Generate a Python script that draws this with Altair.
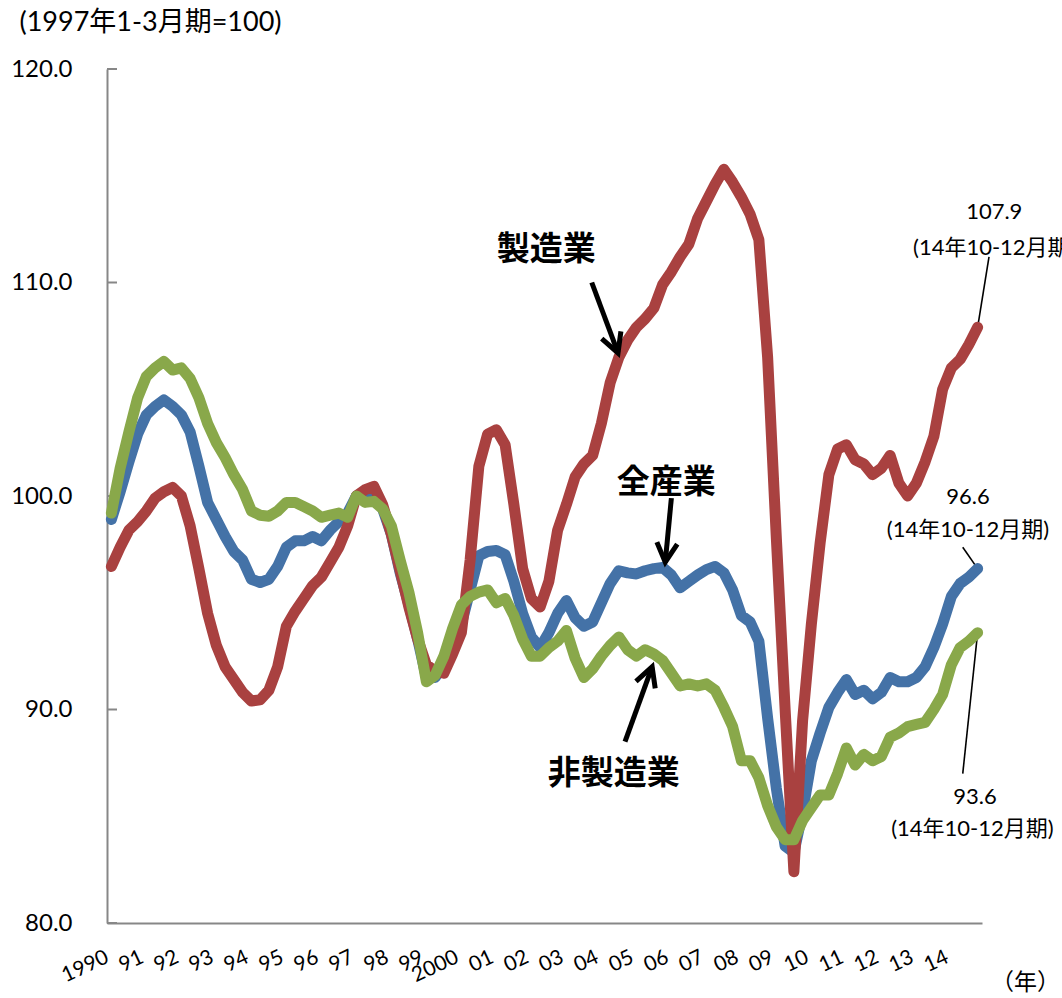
import math
import altair as alt
import pandas as pd

# Quarterly index, 1997 Jan-Mar = 100, 1990 Q1 .. 2014 Q4
year_labels = ["1990", "91", "92", "93", "94", "95", "96", "97", "98", "99",
               "2000", "01", "02", "03", "04", "05", "06", "07", "08", "09",
               "10", "11", "12", "13", "14"]

all_industries = [
    98.9, 100.2, 101.6, 102.9,
    103.8, 104.2, 104.5, 104.2,
    103.8, 103.0, 101.4, 99.7,
    98.9, 98.1, 97.4, 97.0,
    96.1, 95.95, 96.1, 96.7,
    97.6, 97.9, 97.9, 98.1,
    97.9, 98.4, 98.8, 99.2,
    100.0, 99.9, 100.0, 99.4,
    98.2, 96.4, 94.9, 93.3,
    91.5, 91.5, 92.1, 92.9,
    94.0, 95.6, 97.2, 97.4,
    97.45, 97.25, 96.0, 94.5,
    93.4, 92.9, 93.6, 94.5,
    95.1, 94.3, 93.9, 94.1,
    95.0, 95.9, 96.5, 96.4,
    96.35, 96.5, 96.6, 96.65,
    96.3, 95.7, 96.0, 96.3,
    96.55, 96.7, 96.4, 95.6,
    94.4, 94.1, 93.2, 89.6,
    86.3, 83.6, 83.3, 85.2,
    87.6, 88.9, 90.1, 90.8,
    91.4, 90.7, 90.9, 90.5,
    90.8, 91.5, 91.3, 91.3,
    91.5, 92.0, 92.9, 94.0,
    95.3, 95.9, 96.2, 96.6,
]

manufacturing = [
    96.7, 97.6, 98.4, 98.8,
    99.3, 99.9, 100.2, 100.4,
    100.0, 98.6, 96.6, 94.5,
    93.0, 92.0, 91.4, 90.8,
    90.4, 90.45, 90.9, 92.0,
    93.9, 94.6, 95.2, 95.8,
    96.2, 96.9, 97.6, 98.6,
    100.0, 100.3, 100.45, 99.6,
    98.2, 96.5, 94.8, 93.3,
    92.1, 91.8, 91.7, 92.6,
    93.6, 97.0, 101.4, 102.9,
    103.1, 102.4, 99.6, 96.6,
    95.2, 94.8, 96.0, 98.4,
    99.6, 100.9, 101.5, 101.9,
    103.4, 105.3, 106.5, 107.3,
    107.9, 108.3, 108.8, 109.9,
    110.5, 111.2, 111.8, 113.0,
    113.8, 114.6, 115.3, 114.7,
    114.0, 113.2, 112.0, 106.5,
    98.0, 90.0, 82.4, 89.5,
    94.0, 97.8, 101.0, 102.2,
    102.4, 101.7, 101.5, 101.0,
    101.3, 101.9, 100.6, 100.0,
    100.6, 101.6, 102.8, 105.0,
    106.0, 106.4, 107.1, 107.9,
]

non_manufacturing = [
    99.2, 101.3, 103.0, 104.6,
    105.6, 106.0, 106.3, 105.9,
    106.0, 105.5, 104.6, 103.4,
    102.5, 101.8, 101.0, 100.3,
    99.3, 99.1, 99.05, 99.3,
    99.7, 99.7, 99.5, 99.3,
    99.0, 99.1, 99.2, 99.0,
    100.0, 99.7, 99.75, 99.4,
    98.6, 97.0, 95.5, 93.6,
    91.3, 91.6, 92.5, 93.8,
    94.9, 95.3, 95.5, 95.6,
    95.0, 95.2, 94.4, 93.3,
    92.5, 92.5, 92.9, 93.2,
    93.7, 92.4, 91.5, 91.9,
    92.5, 93.0, 93.4, 92.8,
    92.5, 92.8, 92.6, 92.3,
    91.7, 91.1, 91.2, 91.1,
    91.2, 90.9, 90.1, 89.2,
    87.6, 87.6, 86.8, 85.5,
    84.5, 83.9, 83.9, 84.8,
    85.4, 86.0, 86.0, 87.0,
    88.2, 87.4, 87.9, 87.6,
    87.8, 88.7, 88.9, 89.2,
    89.3, 89.4, 90.0, 90.7,
    92.1, 92.9, 93.2, 93.6,
]

series_names = ["全産業", "製造業", "非製造業"]
series_colors = ["#4472A7", "#A94140", "#89A84A"]

# Callout labels with arrows (x in quarter slots, y in index points)
callout_text = ["製造業", "全産業", "非製造業"]
callout_x = [50.2, 63.9, 57.9]
callout_y = [111.5, 100.6, 87.0]
arrow_x0 = [55.4, 64.5, 59.2]
arrow_y0 = [110.0, 99.9, 88.5]
arrow_x1 = [58.4, 63.8, 62.3]
arrow_y1 = [106.7, 96.9, 92.0]

# Latest-value labels
end_note = "(14年10-12月期)"
end_value_x = [101.4, 98.4, 99.2]
end_value_y = [113.3, 99.95, 85.9]
end_note_x = [101.4, 98.4, 98.9]
end_note_y = [111.6, 98.4, 84.4]
leader_x0 = [100.8, 97.8, 97.8]
leader_y0 = [111.2, 97.6, 87.0]

y_ticks = [80, 90, 100, 110, 120]

W, H = 875, 854
X_DOMAIN = [0, 100]
Y_DOMAIN = [80, 120]
NUM_FONT = "Lato, 'Noto Sans CJK JP', sans-serif"
CJK_FONT = "'Noto Sans CJK JP', sans-serif"
AXIS_GREY = "#878787"

xs = alt.Scale(domain=X_DOMAIN, nice=False, zero=False)
ys = alt.Scale(domain=Y_DOMAIN, nice=False, zero=False)

label_array = "[" + ",".join("'" + s + "'" for s in year_labels) + "]"
x_axis = alt.Axis(
    values=[4 * k for k in range(len(year_labels))],
    labelExpr=label_array + "[round(datum.value / 4)]",
    ticks=False, grid=False,
    domainColor=AXIS_GREY, domainWidth=2,
    labelAngle=335, labelAlign="right", labelBaseline="middle",
    labelPadding=33, labelFontSize=21, labelFont=NUM_FONT, labelColor="black",
    labelOverlap=False, labelFlush=False,
    title="（年）", titleAngle=0, titleX=918, titleY=59,
    titleAlign="center", titleBaseline="middle",
    titleFont=CJK_FONT, titleFontSize=23, titleFontWeight="normal", titleColor="black",
)
y_axis = alt.Axis(
    values=y_ticks, format=".1f",
    ticks=False, grid=False,
    domainColor=AXIS_GREY, domainWidth=2,
    labelPadding=35, labelFontSize=24, labelFont=NUM_FONT, labelColor="black",
    labelFlush=False,
    title="(1997年1-3月期=100)", titleAngle=0, titleX=-88, titleY=-47,
    titleAlign="left", titleBaseline="middle",
    titleFont=NUM_FONT, titleFontSize=27, titleFontWeight="normal", titleColor="black",
)


def X(field):
    return alt.X(field, type="quantitative", scale=xs, axis=x_axis)


def Y(field):
    return alt.Y(field, type="quantitative", scale=ys, axis=y_axis)


n = len(all_industries)
pos = [i + 0.5 for i in range(n)]

layers = []

# inward ticks on the value axis
tick_df = pd.DataFrame({"v": y_ticks})
layers.append(
    alt.Chart(tick_df).mark_rule(color=AXIS_GREY, strokeWidth=2).encode(
        y=Y("v"), x=alt.value(0), x2=alt.value(10)
    )
)

# leader lines from latest-value labels to the last points
last_vals = [manufacturing[-1], all_industries[-1], non_manufacturing[-1]]
leader_df = pd.DataFrame({
    "p0": leader_x0, "v0": leader_y0,
    "p1": [pos[-1]] * 3, "v1": last_vals,
})
layers.append(
    alt.Chart(leader_df).mark_rule(color="black", strokeWidth=1.6).encode(
        x=X("p0"), y=Y("v0"), x2=alt.X2("p1"), y2=alt.Y2("v1")
    )
)

# the three series
for values, color in zip([all_industries, manufacturing, non_manufacturing], series_colors):
    df = pd.DataFrame({"p": pos, "v": values})
    layers.append(
        alt.Chart(df).mark_line(
            color=color, strokeWidth=11, strokeJoin="round", strokeCap="round"
        ).encode(x=X("p"), y=Y("v"))
    )

# arrows
arrow_df = pd.DataFrame({"p0": arrow_x0, "v0": arrow_y0, "p1": arrow_x1, "v1": arrow_y1})
px_per_x = W / (X_DOMAIN[1] - X_DOMAIN[0])
px_per_y = H / (Y_DOMAIN[1] - Y_DOMAIN[0])
arrow_df["ang"] = [
    math.degrees(math.atan2((x1 - x0) * px_per_x, (y1 - y0) * px_per_y)) % 360
    for x0, y0, x1, y1 in zip(arrow_x0, arrow_y0, arrow_x1, arrow_y1)
]
layers.append(
    alt.Chart(arrow_df).mark_rule(color="black", strokeWidth=5).encode(
        x=X("p0"), y=Y("v0"), x2=alt.X2("p1"), y2=alt.Y2("v1")
    )
)
layers.append(
    alt.Chart(arrow_df).mark_point(
        shape="M -0.47 0.88 L 0 0 L 0.47 0.88",
        size=1900, filled=False, stroke="black", strokeWidth=5, opacity=1,
    ).encode(x=X("p1"), y=Y("v1"), angle=alt.Angle("ang:Q", scale=None))
)

# callout names
callout_df = pd.DataFrame({"p": callout_x, "v": callout_y, "t": callout_text})
layers.append(
    alt.Chart(callout_df).mark_text(
        font=CJK_FONT, fontSize=33, fontWeight="bold", color="black",
        align="center", baseline="middle",
    ).encode(x=X("p"), y=Y("v"), text="t:N")
)

# latest values and period notes
value_df = pd.DataFrame({
    "p": end_value_x, "v": end_value_y,
    "t": [f"{x:.1f}" for x in last_vals],
})
note_df = pd.DataFrame({"p": end_note_x, "v": end_note_y, "t": [end_note] * 3})
for df in (value_df, note_df):
    layers.append(
        alt.Chart(df).mark_text(
            font=NUM_FONT, fontSize=22, color="black",
            align="center", baseline="middle",
        ).encode(x=X("p"), y=Y("v"), text="t:N")
    )

chart = alt.layer(*layers).properties(
    width=W, height=H,
    autosize=alt.AutoSizeParams(type="none"),
    padding={"left": 107, "top": 69, "right": 80, "bottom": 75},
    background="white",
).configure_view(stroke=None)

chart.save("out.html", embed_options={"renderer": "svg", "actions": False})
